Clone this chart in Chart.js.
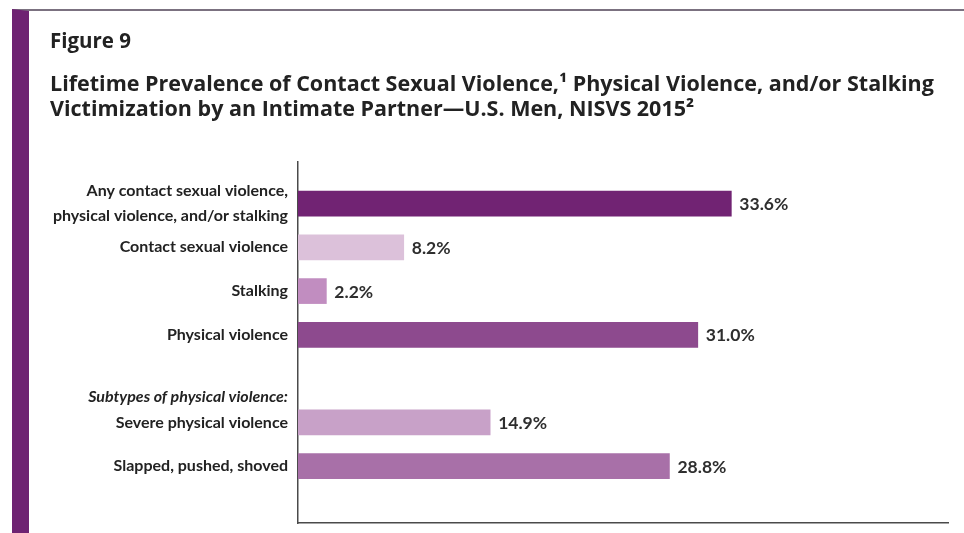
<!DOCTYPE html>
<html>
<head>
<meta charset="utf-8">
<script src="https://cdn.jsdelivr.net/npm/chart.js@4/dist/chart.umd.min.js"></script>
<style>
  html, body { margin: 0; padding: 0; background: #fff; }
  #wrap { position: relative; width: 964px; height: 533px; overflow: hidden; }
  #frame {
    position: absolute; left: 12px; top: 9px; right: 0; bottom: 0;
    border-top: 2px solid #7b7180;
    border-left: 17px solid #6e2272;
  }
  #chart { position: absolute; left: 0; top: 0; }
</style>
</head>
<body>
<div id="wrap">
  <div id="frame"></div>
  <canvas id="chart" width="964" height="533"></canvas>
</div>
<script>
// categories (top to bottom) and their values, percent
const categories = [
  ["Any contact sexual violence,", "physical violence, and/or stalking"],
  "Contact sexual violence",
  "Stalking",
  "Physical violence",
  "Severe physical violence",
  "Slapped, pushed, shoved"
];
const values = [33.6, 8.2, 2.2, 31.0, 14.9, 28.8];
// row slot of each bar (slot 4 is the gap above the subtypes)
const rows = [0, 1, 2, 3, 5, 6];
const barColors = ["#712373", "#dcc1da", "#c18dc0", "#8d4a8e", "#c8a1c8", "#a870a8"];
const groupLabel = "Subtypes of physical violence:";
const groupRow = 4.42;

const LABEL_FONT = 'Lato, "Open Sans", sans-serif';
const TITLE_FONT = '"Open Sans", sans-serif';

// y ticks: one per bar plus the italic group heading
const tickRows = rows.slice(0, 4).concat([groupRow], rows.slice(4));
const tickText = categories.slice(0, 4).concat([groupLabel], categories.slice(4));

const valueLabels = {
  id: 'valueLabels',
  afterDatasetsDraw(chart) {
    const ctx = chart.ctx;
    const meta = chart.getDatasetMeta(0);
    ctx.save();
    ctx.font = 'bold 17.5px ' + LABEL_FONT;
    ctx.fillStyle = '#2e2e2e';
    ctx.textAlign = 'left';
    ctx.textBaseline = 'middle';
    meta.data.forEach(function (bar, i) {
      ctx.fillText(values[i].toFixed(1) + '%', bar.x + 8, bar.y + 1);
    });
    ctx.restore();
  }
};

const chartCtx = document.getElementById('chart');
new Chart(chartCtx.getContext('2d'), {
  type: 'bar',
  data: {
    datasets: [{
      data: values.map(function (v, i) { return { x: v, y: rows[i] }; }),
      backgroundColor: barColors,
      borderWidth: 0,
      barThickness: 25
    }]
  },
  options: {
    indexAxis: 'y',
    responsive: false,
    animation: false,
    layout: { padding: { left: 50, right: 16, top: 0, bottom: 10 } },
    scales: {
      x: {
        type: 'linear',
        min: 0,
        max: 50.4,
        ticks: { display: false },
        grid: { display: false, drawTicks: false },
        border: { display: true, color: '#4a4a4a', width: 1.5 }
      },
      y: {
        type: 'linear',
        reverse: true,
        offset: false,
        min: -0.95,
        max: 7.3,
        afterBuildTicks: function (scale) {
          scale.ticks = tickRows.map(function (r) { return { value: r }; });
        },
        afterFit: function (scale) {
          scale.width = 248;
          scale.paddingTop = 0;
          scale.paddingBottom = 0;
        },
        ticks: {
          autoSkip: false,
          padding: 10,
          color: '#222',
          callback: function (value, index) { return tickText[index]; },
          font: function (c) {
            const italic = c.tick && c.tick.value === groupRow;
            return { family: LABEL_FONT, size: 16, weight: 'bold', style: italic ? 'italic' : 'normal', lineHeight: 1.5625 };
          }
        },
        grid: { display: false, drawTicks: false },
        border: { display: true, color: '#4a4a4a', width: 1.5 }
      }
    },
    plugins: {
      legend: { display: false },
      tooltip: { enabled: false },
      title: {
        display: true,
        text: 'Figure 9',
        align: 'start',
        color: '#222',
        font: { family: TITLE_FONT, size: 20.5, weight: 'bold', lineHeight: 1.2 },
        padding: { top: 29.7, bottom: 0 }
      },
      subtitle: {
        display: true,
        text: [
          'Lifetime Prevalence of Contact Sexual Violence,\u00b9 Physical Violence, and/or Stalking',
          'Victimization by an Intimate Partner\u2014U.S. Men, NISVS 2015\u00b2'
        ],
        align: 'start',
        color: '#222',
        font: { family: TITLE_FONT, size: 21.5, weight: 'bold', lineHeight: 25 / 21.5 },
        padding: { top: 18.2, bottom: 39.5 }
      }
    }
  },
  plugins: [valueLabels]
});
</script>
</body>
</html>
